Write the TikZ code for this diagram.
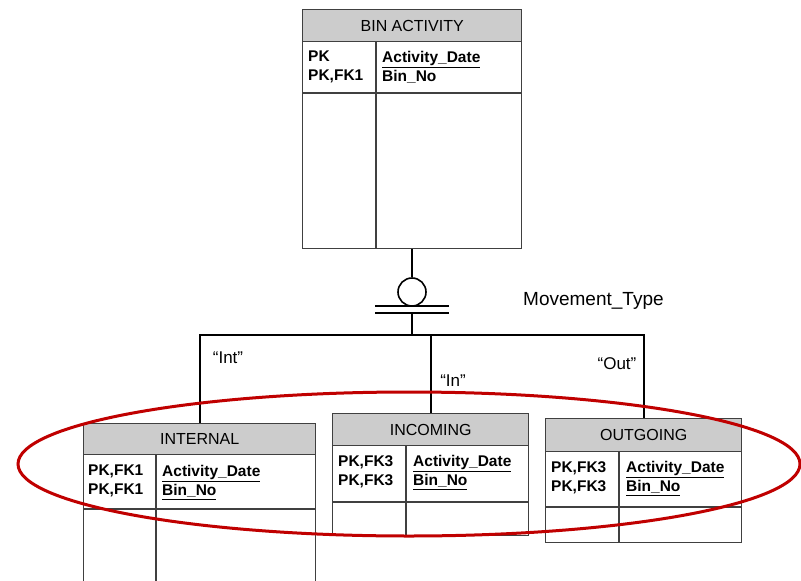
\documentclass[tikz,border=0pt]{standalone}
\usepackage{fontspec}
\setmainfont{Liberation Sans}
\begin{document}
\begin{tikzpicture}[x=1pt,y=-1pt,
  boxline/.style={draw=black!75,line width=1.4pt},
  entbox/.style={boxline,rectangle,anchor=north west,inner sep=0pt,fill=white},
  hdr/.style={boxline,rectangle,anchor=north west,inner sep=0pt,fill=black!20,font=\fontsize{16}{18}\selectfont},
  attr/.style={anchor=north west,inner sep=0pt,align=left,font=\fontsize{15.5}{19}\selectfont\bfseries},
  conn/.style={draw=black,line width=1.6pt},
  lbl/.style={inner sep=0pt,font=\fontsize{17}{18}\selectfont},
  redring/.style={draw={rgb,255:red,192;green,0;blue,0},line width=3pt}
]
\useasboundingbox (0,0) rectangle (801,581);
\clip (0,0) rectangle (801,581);
\fill[white] (0,0) rectangle (801,581);

% BIN ACTIVITY
\node[entbox,minimum width=219pt,minimum height=239pt] (bin) at (302,9) {};
\node[hdr,minimum width=219pt,minimum height=32pt] (binh) at (302,9) {BIN ACTIVITY};
\draw[boxline] (302,93) -- (521,93);
\draw[boxline] (376,41) -- (376,248);
\node[attr] (binpk) at (308,51) {PK\\PK,FK1};
\node[attr] (binat) at (382,51) {\underline{Activity\_Date}\\Bin\_No};

% INTERNAL
\node[entbox,minimum width=232pt,minimum height=200pt] (int) at (83,423) {};
\node[hdr,minimum width=232pt,minimum height=31pt] (inth) at (83,423) {INTERNAL};
\draw[boxline] (83,509) -- (315,509);
\draw[boxline] (156,454) -- (156,600);
\node[attr] (intpk) at (88,465) {PK,FK1\\PK,FK1};
\node[attr] (intat) at (162,465) {\underline{Activity\_Date}\\\underline{Bin\_No}};

% INCOMING
\node[entbox,minimum width=196pt,minimum height=122pt] (inc) at (332,413) {};
\node[hdr,minimum width=196pt,minimum height=32pt] (inch) at (332,413) {INCOMING};
\draw[boxline] (332,502) -- (528,502);
\draw[boxline] (406,445) -- (406,535);
\node[attr] (incpk) at (338,455) {PK,FK3\\PK,FK3};
\node[attr] (incat) at (413,455) {\underline{Activity\_Date}\\\underline{Bin\_No}};

% OUTGOING
\node[entbox,minimum width=196pt,minimum height=124pt] (out) at (545,418) {};
\node[hdr,minimum width=196pt,minimum height=33pt] (outh) at (545,418) {OUTGOING};
\draw[boxline] (545,507) -- (741,507);
\draw[boxline] (619,451) -- (619,542);
\node[attr] (outpk) at (551,461) {PK,FK3\\PK,FK3};
\node[attr] (outat) at (626,461) {\underline{Activity\_Date}\\\underline{Bin\_No}};

% subtype connector
\node[circle,draw=black,line width=1.6pt,minimum size=28pt,inner sep=0pt] (circ) at (412,292) {};
\coordinate (bar1) at (412,306);
\coordinate (bar2) at (412,313);
\coordinate (junc) at (412,335);
\draw[conn] (bin.south -| circ) -- (circ.north);
\draw[conn] ([xshift=-37pt]bar1) -- ([xshift=37pt]bar1);
\draw[conn] ([xshift=-37pt]bar2) -- ([xshift=37pt]bar2);
\draw[conn] (bar2) -- (junc);
\draw[conn] (inth.north) -- (inth.north |- junc) -- (outh.north |- junc) -- (outh.north);
\draw[conn] (inch.north) -- (inch.north |- junc);

\node[lbl,font=\fontsize{19}{20}\selectfont,anchor=west] (mt) at (523,301) {Movement\_Type};
\node[lbl] (lint) at (228,358) {“Int”};
\node[lbl] (lin) at (453,381) {“In”};
\node[lbl] (lout) at (617,364) {“Out”};

% red highlight
\draw[redring] (409,464) ellipse [x radius=391pt,y radius=72pt];
\end{tikzpicture}
\end{document}
